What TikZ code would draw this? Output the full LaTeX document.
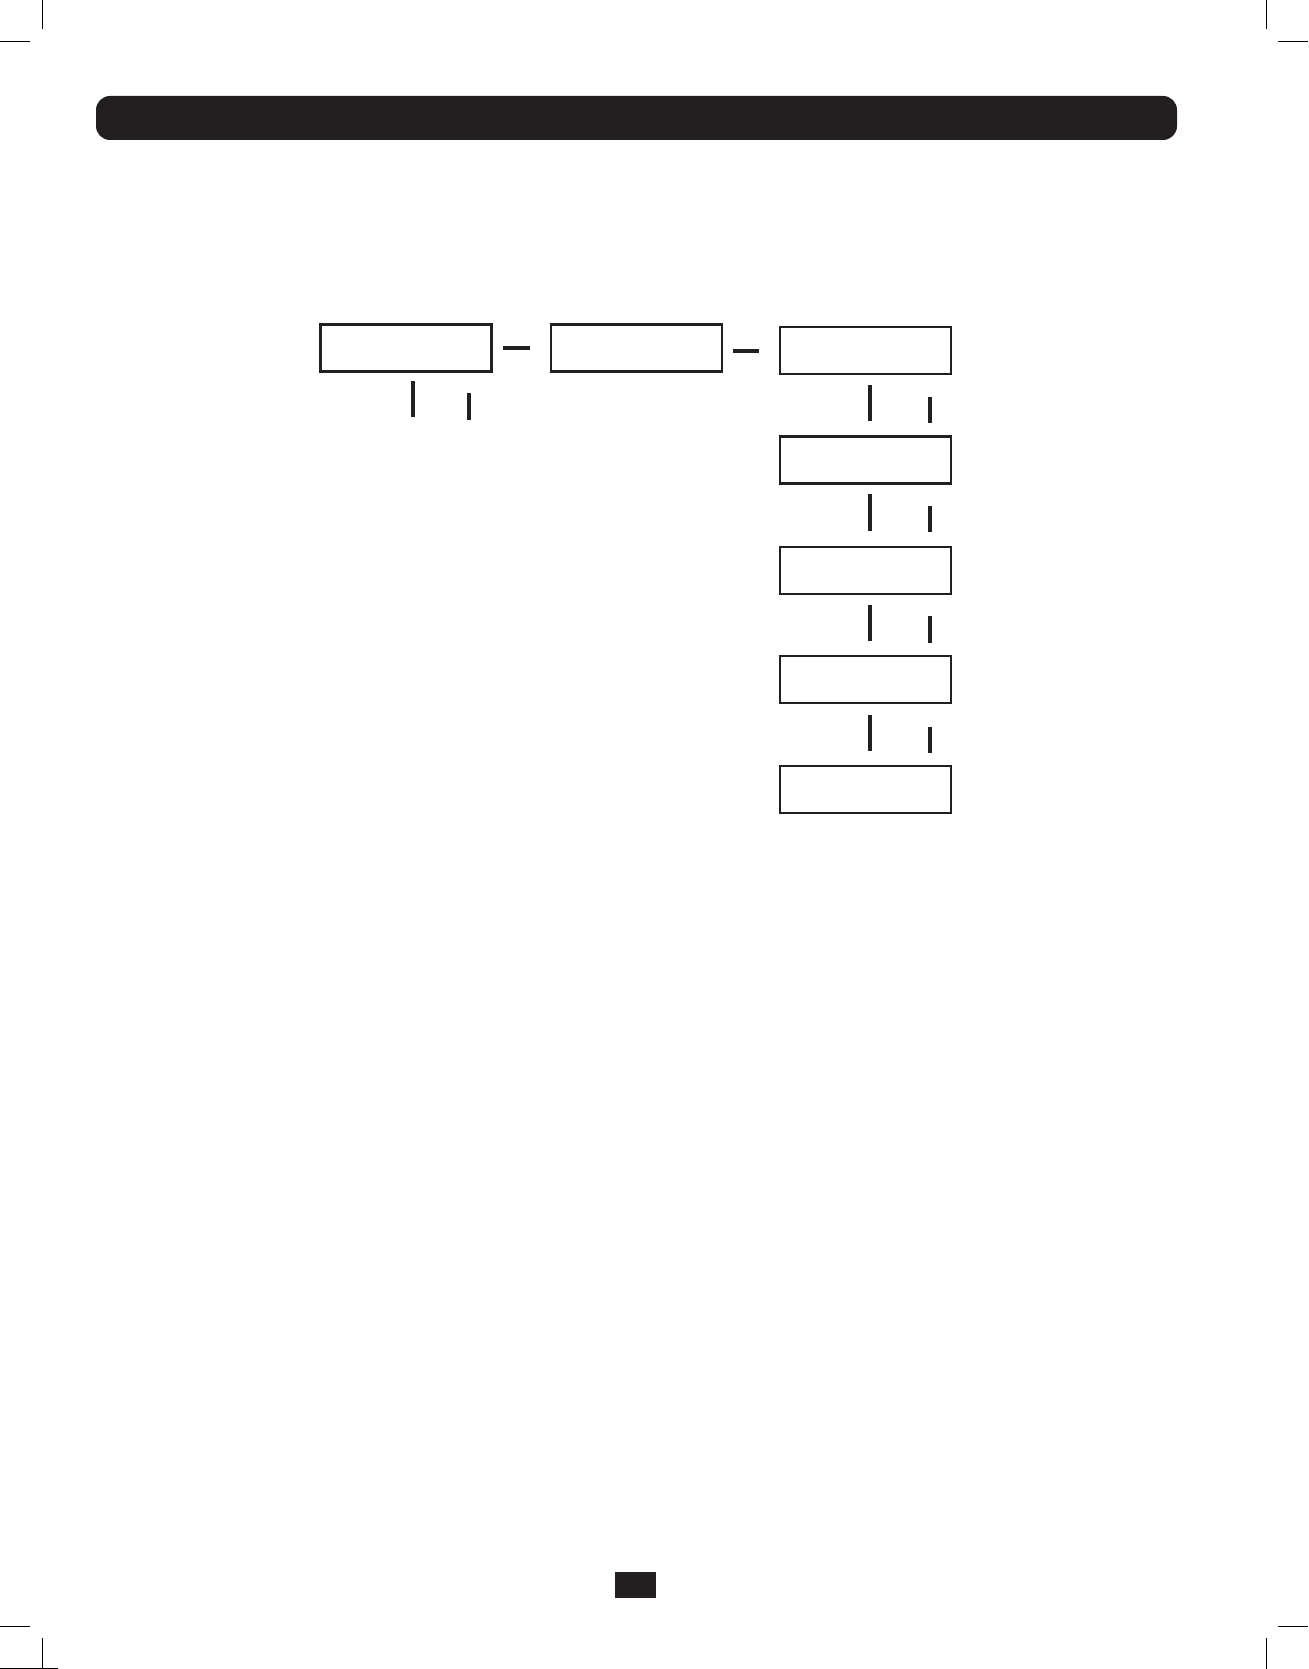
\documentclass[tikz,border=0pt]{standalone}
\definecolor{ink}{HTML}{231F20}
\begin{document}
\begin{tikzpicture}[x=0.5pt,y=-0.5pt,
  stagebox/.style={draw=ink,line width=1.35pt,fill=white,minimum width=85.5pt,minimum height=23.5pt,inner sep=0pt},
  tick/.style={draw=ink,line width=1.7pt},
  crop/.style={draw=black,line width=0.5pt}]
\useasboundingbox (0,0) rectangle (1309,1669);
\fill[white] (0,0) rectangle (1309,1669);
% header bar
\fill[ink,rounded corners=7pt] (96,96) rectangle (1177,140);
% crop marks
\draw[crop] (42,0) -- (42,29);
\draw[crop] (0,42) -- (30,42);
\draw[crop] (1266,0) -- (1266,29);
\draw[crop] (1278,42) -- (1308,42);
\draw[crop] (0,1626) -- (30,1626);
\draw[crop] (42,1638) -- (42,1669);
\draw[crop] (1278,1626) -- (1308,1626);
\draw[crop] (1266,1638) -- (1266,1669);
\draw[crop] (0,1668.5) -- (58,1668.5);
% boxes
\node[stagebox] (b1) at (406,348) {};
\node[stagebox] (b2) at (636.5,348) {};
\node[stagebox] (b3) at (865.5,350.5) {};
\node[stagebox] (b4) at (865.5,460) {};
\node[stagebox] (b5) at (865.5,570.5) {};
\node[stagebox] (b6) at (865.5,679.5) {};
\node[stagebox] (b7) at (865.5,789.5) {};
% horizontal dashes
\coordinate (d1a) at (503,348); \coordinate (d1b) at (530,348);
\coordinate (d2a) at (733,351); \coordinate (d2b) at (759,351);
\draw[tick] (d1a) -- (d1b);
\draw[tick] (d2a) -- (d2b);
% ticks under box 1
\coordinate (t1a) at (413,381); \coordinate (t1b) at (413,417);
\coordinate (t2a) at (469,393); \coordinate (t2b) at (469,420);
\draw[tick] (t1a) -- (t1b);
\draw[tick] (t2a) -- (t2b);
% ticks in the right column
\foreach \ya/\yb/\yc/\yd in {385/421/397/423, 494/531/506/532, 605/641/616/643, 715/751/727/753}{
  \draw[tick] (870,\ya) -- (870,\yb);
  \draw[tick] (930,\yc) -- (930,\yd);
}
% page number box
\fill[ink] (615,1572) rectangle (656,1598);
\end{tikzpicture}
\end{document}
